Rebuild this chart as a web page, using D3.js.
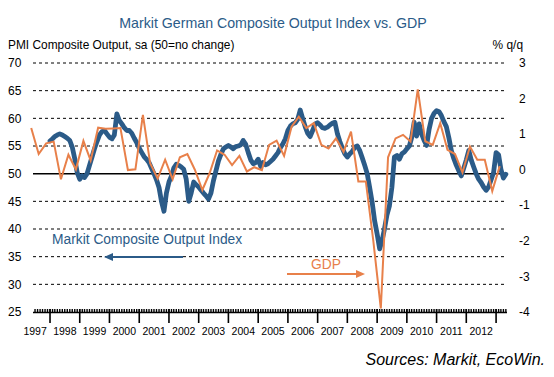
<!DOCTYPE html>
<html>
<head>
<meta charset="utf-8">
<script src="https://cdn.jsdelivr.net/npm/d3@7"></script>
<style>
  body { margin: 0; background: #fff; }
  text { font-family: "Helvetica Neue", Helvetica, Arial, "Liberation Sans", sans-serif; }
</style>
</head>
<body>
<div id="chart"></div>
<script>
// PMI composite output, monthly from Jan 1998 (one row per year)
const pmi = [
  55.9, 56.3, 56.7, 57.0, 57.2, 57.0, 56.7, 56.4, 56.0, 54.8, 52.7, 50.2, // 1998
  49.0, 49.6, 49.3, 50.0, 51.5, 53.0, 54.5, 55.8, 57.0, 57.6, 57.8, 57.2, // 1999
  56.6, 56.3, 57.0, 60.8, 59.6, 59.0, 58.3, 57.8, 57.8, 57.3, 56.4, 55.6, // 2000
  54.6, 53.8, 53.1, 52.6, 52.0, 51.0, 50.0, 48.9, 47.5, 45.0, 43.2, 46.5, // 2001
  48.5, 49.6, 51.0, 51.7, 51.5, 51.2, 50.8, 49.0, 45.0, 46.5, 48.5, 48.0, // 2002
  47.6, 47.0, 46.5, 46.0, 45.4, 46.5, 48.7, 50.5, 52.3, 53.5, 54.5, 54.8, // 2003
  55.1, 54.8, 54.5, 54.9, 55.0, 55.2, 56.0, 55.3, 53.8, 52.5, 51.8, 52.0, // 2004
  52.6, 51.3, 52.0, 51.6, 51.8, 52.2, 52.6, 53.2, 53.8, 54.7, 55.4, 56.3, // 2005
  57.8, 58.6, 59.0, 59.2, 59.8, 61.5, 60.0, 58.5, 57.3, 56.7, 57.8, 59.0, // 2006
  59.2, 58.8, 58.3, 58.2, 58.4, 58.8, 59.1, 59.3, 57.2, 55.8, 54.6, 53.6, // 2007
  53.0, 53.6, 54.0, 54.8, 55.0, 54.2, 52.9, 51.5, 50.0, 47.5, 44.8, 41.5, // 2008
  39.1, 36.4, 37.8, 40.0, 42.5, 44.2, 47.5, 53.0, 53.3, 52.6, 53.6, 53.9, // 2009
  54.5, 55.0, 56.5, 59.3, 56.8, 59.0, 57.2, 56.0, 55.1, 58.0, 60.0, 60.9, // 2010
  61.4, 61.2, 60.5, 59.4, 58.5, 56.5, 54.2, 52.7, 51.5, 50.5, 49.6, 51.0, // 2011
  52.5, 54.2, 52.5, 51.2, 50.0, 49.0, 48.4, 47.6, 47.0, 47.6, 48.9, 50.2, // 2012
  53.8, 53.4, 50.8, 49.2, 49.9                                            // 2013
];

// GDP % q/q, quarterly from Q2 1997
const gdp = [
  1.17, 0.44, 0.74,            // 1997
  0.79, -0.27, 0.42, 0.01,     // 1998
  0.81, 0.26, 1.18, 1.15,      // 1999
  1.16, 1.17, -0.01, 0.01,     // 2000
  1.54, 0.18, -0.25, 0.28,     // 2001
  -0.27, 0.35, 0.44, 0.0,      // 2002
  -0.57, -0.1, 0.54, 0.42,     // 2003
  0.13, 0.39, -0.05, 0.07,     // 2004
  -0.01, 0.70, 0.82, 0.39,     // 2005
  1.21, 1.49, 1.17, 1.31,      // 2006
  0.70, 0.60, 0.88, 0.50,      // 2007
  1.07, -0.33, -0.33, -2.0,    // 2008
  -3.9, 0.35, 0.88, 0.98,      // 2009
  0.79, 2.26, 0.80, 0.70,      // 2010
  1.31, 0.56, 0.44, -0.08,     // 2011
  0.65, 0.28, 0.28, -0.6,      // 2012
  0.1                          // 2013
];

const years = d3.range(1997, 2013);
const leftTicks = [25, 30, 35, 40, 45, 50, 55, 60, 65, 70];
const rightTicks = [-4, -3, -2, -1, 0, 1, 2, 3];

const W = 554, H = 377;
const BLUE = "#2b5b88", ORANGE = "#e8804a";
const PLOT = {LEFT: 33, RIGHT: 507, TOP: 63, BOTTOM: 312};

const svg = d3.select("#chart").append("svg")
  .attr("width", W).attr("height", H);

const x = d3.scaleUtc()
  .domain([new Date(Date.UTC(1997, 5, 6)), new Date(Date.UTC(2013, 4, 15))])
  .range([PLOT.LEFT, PLOT.RIGHT]);
const yL = d3.scaleLinear().domain([25, 70]).range([PLOT.BOTTOM, PLOT.TOP]);
const yR = d3.scaleLinear().domain([-4, 3]).range([PLOT.BOTTOM, PLOT.TOP]);

const pmiData = pmi.map((v, i) => ({date: new Date(Date.UTC(1998, i, 1)), v}));
const gdpData = gdp.map((v, i) => ({date: new Date(Date.UTC(1997, 4 + i * 3, 15)), v}));

// Title and axis titles
svg.append("text").attr("x", 273).attr("y", 28).attr("text-anchor", "middle")
  .attr("font-size", 14.2).attr("fill", BLUE)
  .text("Markit German Composite Output Index vs. GDP");
svg.append("text").attr("x", 8).attr("y", 49).attr("font-size", 11.9)
  .text("PMI Composite Output, sa (50=no change)");
svg.append("text").attr("x", 523).attr("y", 49).attr("text-anchor", "end")
  .attr("font-size", 11.9).text("% q/q");

// Gridlines
svg.append("g").selectAll("line")
  .data(leftTicks.filter(d => d !== 25))
  .join("line")
    .attr("x1", PLOT.LEFT).attr("x2", PLOT.RIGHT)
    .attr("y1", d => yL(d)).attr("y2", d => yL(d))
    .attr("stroke", "#000")
    .attr("stroke-width", d => d === 50 ? 1.5 : 1)
    .attr("stroke-dasharray", d => d === 50 ? null : "3,3");

// Left tick labels
svg.append("g").selectAll("text")
  .data(leftTicks)
  .join("text")
    .attr("x", 8).attr("y", d => yL(d)).attr("dy", "0.35em")
    .attr("font-size", 12).text(d => d);

// Right tick labels
svg.append("g").selectAll("text")
  .data(rightTicks)
  .join("text")
    .attr("x", 519).attr("y", d => yR(d)).attr("dy", "0.35em")
    .attr("font-size", 12).text(d => d);

// X axis: monthly ticks, longer year ticks
const xAxis = svg.append("g");
const months = x.ticks(d3.utcMonth.every(1));
xAxis.append("line")
  .attr("x1", PLOT.LEFT).attr("x2", PLOT.RIGHT)
  .attr("y1", PLOT.BOTTOM + 0.5).attr("y2", PLOT.BOTTOM + 0.5)
  .attr("stroke", "#000").attr("stroke-width", 1.5);
xAxis.selectAll(".m")
  .data(months)
  .join("line").attr("class", "m")
    .attr("x1", d => x(d)).attr("x2", d => x(d))
    .attr("y1", PLOT.BOTTOM - 3).attr("y2", PLOT.BOTTOM + 1)
    .attr("stroke", "#000").attr("stroke-width", 1.4);
xAxis.selectAll(".y")
  .data(years.slice(1).concat([2013]))
  .join("line").attr("class", "y")
    .attr("x1", d => x(new Date(Date.UTC(d, 0, 1))))
    .attr("x2", d => x(new Date(Date.UTC(d, 0, 1))))
    .attr("y1", PLOT.BOTTOM - 3).attr("y2", PLOT.BOTTOM + 11)
    .attr("stroke", "#000").attr("stroke-width", 1.6);
xAxis.selectAll("text")
  .data(years)
  .join("text")
    .attr("x", d => x(new Date(Date.UTC(d, 6, 2))))
    .attr("y", 335).attr("text-anchor", "middle")
    .attr("font-size", 10.5).text(d => d);

// Series
svg.append("path").datum(pmiData)
  .attr("fill", "none").attr("stroke", BLUE).attr("stroke-width", 4.8)
  .attr("stroke-linejoin", "round").attr("stroke-linecap", "round")
  .attr("d", d3.line().x(d => x(d.date)).y(d => yL(d.v)));

svg.append("path").datum(gdpData)
  .attr("fill", "none").attr("stroke", ORANGE).attr("stroke-width", 2)
  .attr("stroke-linejoin", "miter")
  .attr("d", d3.line().x(d => x(d.date)).y(d => yR(d.v)));

// Annotations
const arrow = (x1, x2, y, color) => {
  const dir = Math.sign(x2 - x1);
  svg.append("line")
    .attr("x1", x1).attr("x2", x2 - dir * 6).attr("y1", y).attr("y2", y)
    .attr("stroke", color).attr("stroke-width", 2);
  svg.append("path")
    .attr("d", `M${x2},${y} L${x2 - dir * 9},${y - 4} L${x2 - dir * 9},${y + 4} Z`)
    .attr("fill", color);
};
svg.append("text").attr("x", 52).attr("y", 244).attr("font-size", 13.8)
  .attr("fill", BLUE).text("Markit Composite Output Index");
arrow(183, 104, 257, BLUE);
svg.append("text").attr("x", 311).attr("y", 269).attr("font-size", 13.8)
  .attr("fill", ORANGE).text("GDP");
arrow(287, 365, 274, ORANGE);

// Source
svg.append("text").attr("x", 545).attr("y", 365).attr("text-anchor", "end")
  .attr("font-size", 16).attr("font-style", "italic")
  .text("Sources: Markit, EcoWin.");
</script>
</body>
</html>
